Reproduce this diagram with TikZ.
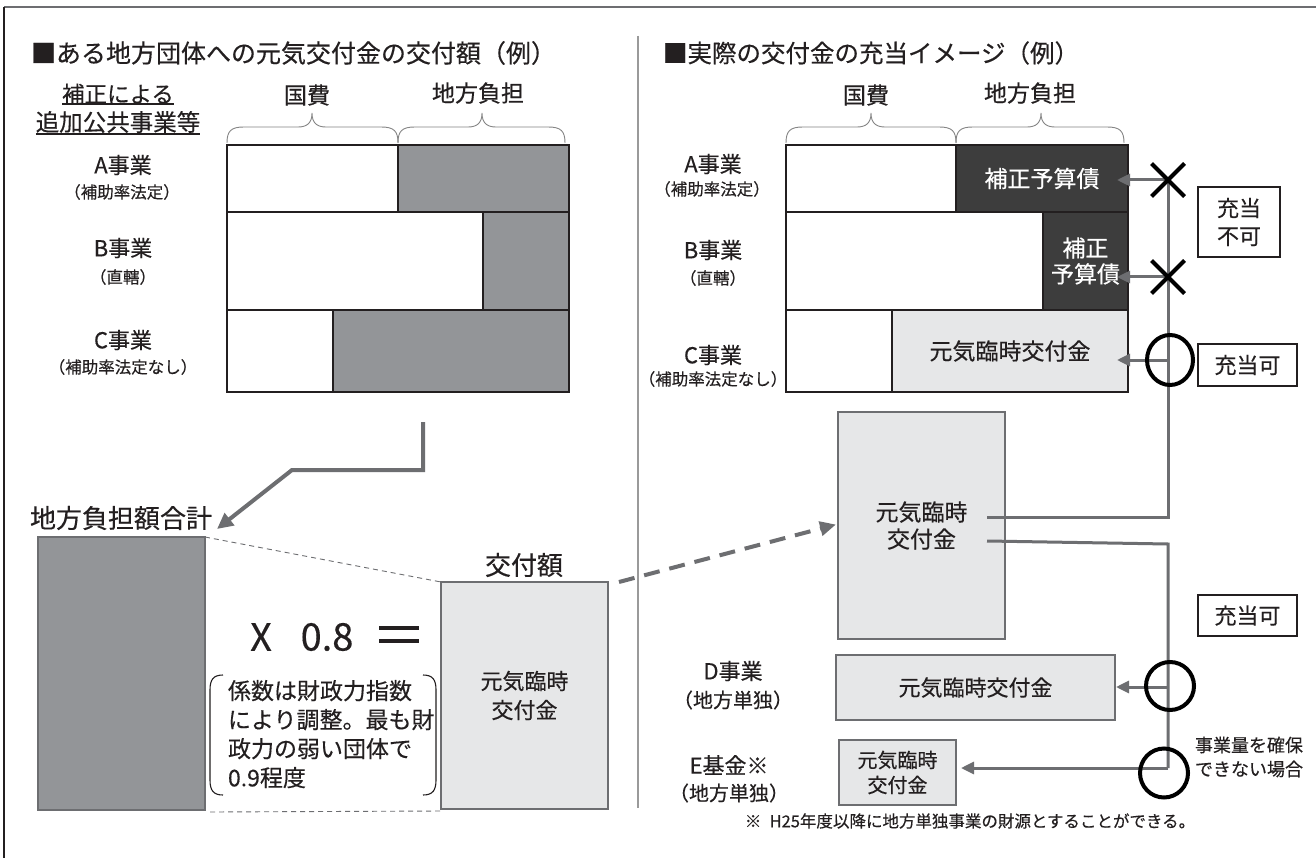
\documentclass[tikz,border=0pt]{standalone}
\usepackage{fontspec}
\setmainfont{Noto Sans CJK JP}[FakeBold=0.35]
\usetikzlibrary{arrows.meta,shapes.geometric,shapes.misc}
\definecolor{midgray}{HTML}{939598}
\definecolor{darkfill}{HTML}{3D3D3D}
\definecolor{lightfill}{HTML}{E6E7E8}
\definecolor{conng}{HTML}{6D6E71}
\definecolor{edge}{HTML}{231F20}
\definecolor{braceg}{HTML}{858585}
\definecolor{divg}{HTML}{9A9A9A}
\newcommand{\fsz}[2]{\fontsize{#1}{#2}\selectfont}
\newcommand{\brc}[3]{\draw[brace] (#1,143) .. controls (#1,131) and (#1+4,127) .. (#1+17,127) -- (#2-14,127) .. controls (#2-5,127) and (#2,123) .. (#2,113) .. controls (#2,123) and (#2+5,127) .. (#2+14,127) -- (#3-17,127) .. controls (#3-4,127) and (#3,131) .. (#3,143);}
\begin{document}
\begin{tikzpicture}[x=1pt,y=-1pt,
  every node/.style={inner sep=0pt, outer sep=0pt, text=edge},
  cell/.style={draw=edge, line width=1.3pt, anchor=north west, align=center},
  lbl/.style={align=center},
  brace/.style={draw=braceg, line width=0.9pt},
  link/.style={draw=conng, line width=3pt},
  arr/.style={link, -{Triangle[length=13pt,width=12pt]}},
  dasharr/.style={draw=conng, line width=4pt, dash pattern=on 16pt off 10pt, -{Triangle[length=16pt,width=14pt]}},
  thindash/.style={draw=conng, line width=0.9pt, dash pattern=on 5pt off 4pt},
  sym/.style={draw=black, line width=4pt},
]
\useasboundingbox (0,0) rectangle (1316,858);
\fill[white] (0,0) rectangle (1316,858);
% frame
\coordinate (fTL) at (4,7);
\coordinate (fTR) at (1316,7);
\coordinate (fBL) at (4,858);
\draw[conng, line width=1.6pt] (fTL) -- (fTR);
\draw[edge, line width=1.4pt] (fTL) -- (fBL);
% divider
\coordinate (dv1) at (638,36);
\coordinate (dv2) at (638,808);
\draw[divg, line width=2pt] (dv1) -- (dv2);

% titles
\node[lbl, anchor=west, font=\fsz{25}{30}] (ttlL) at (31,53) {■ある地方団体への元気交付金の交付額（例）};
\node[lbl, anchor=west, font=\fsz{24.5}{30}] (ttlR) at (663,53) {■実際の交付金の充当イメージ（例）};

% ---------- left panel ----------
\node[lbl, font=\fsz{22.5}{27}] (hos1) at (118,94) {補正による};
\node[lbl, font=\fsz{23.5}{28}] (hos2) at (118,122) {追加公共事業等};
\coordinate (u1) at (0,104);
\coordinate (u2) at (0,134);
\draw[edge, line width=1.2pt] (hos1.west |- u1) -- (hos1.east |- u1);
\draw[edge, line width=1.2pt] (hos2.west |- u2) -- (hos2.east |- u2);

\node[lbl, font=\fsz{23}{28}] (kL) at (307,95) {国費};
\node[lbl, font=\fsz{23}{28}] (cL) at (478,93) {地方負担};
\brc{227}{312}{398}
\brc{398}{482}{565}

\node[lbl, font=\fsz{22}{26}] (aL) at (123,165) {A事業};
\node[lbl, font=\fsz{16.5}{20}] (aL2) at (122,192) {（補助率法定）};
\node[lbl, font=\fsz{22}{26}] (bL) at (123,248) {B事業};
\node[lbl, font=\fsz{16.5}{20}] (bL2) at (123,277) {（直轄）};
\node[lbl, font=\fsz{22}{26}] (cLb) at (123,340) {C事業};
\node[lbl, font=\fsz{16.5}{20}] (cL2) at (123,367) {（補助率法定なし）};

\node[cell, fill=white, minimum width=171pt, minimum height=67pt] (lAw) at (227,145) {};
\node[cell, fill=midgray, minimum width=171pt, minimum height=67pt] (lAg) at (398,145) {};
\node[cell, fill=white, minimum width=256pt, minimum height=98pt] (lBw) at (227,212) {};
\node[cell, fill=midgray, minimum width=86pt, minimum height=98pt] (lBg) at (483,212) {};
\node[cell, fill=white, minimum width=106pt, minimum height=82pt] (lCw) at (227,310) {};
\node[cell, fill=midgray, minimum width=236pt, minimum height=82pt] (lCg) at (333,310) {};

% elbow arrow
\node[lbl, font=\fsz{26}{30}] (sum) at (121,518) {地方負担額合計};
\coordinate (e0) at (423,422);
\coordinate (e1) at (423,470);
\coordinate (e2) at (292,470);
\coordinate (e3) at (217,529);
\draw[link, line width=4pt, -{Triangle[length=16pt,width=15pt]}] (e0) -- (e1) -- (e2) -- (e3);

\node[cell, draw=conng, fill=midgray, minimum width=167pt, minimum height=273pt] (tot) at (38,537) {};
\node[lbl, font=\fsz{26}{30}] (kfg) at (524,565) {交付額};
\node[cell, draw=conng, fill=lightfill, minimum width=167pt, minimum height=227pt, font=\fsz{22}{29}] (grant) at (441,582) {元気臨時\\交付金};
\draw[thindash] (tot.north east) -- (grant.north west);
\draw[thindash] ([xshift=5pt,yshift=-2pt]tot.south east) -- ([yshift=-2pt]grant.south west);

\node[lbl, font=\fsz{38}{44}] (xx) at (261,637) {X};
\node[lbl, font=\fsz{38}{44}] (num) at (327,637) {0.8};
\coordinate (eq1) at (379,628);
\coordinate (eq2) at (419,628);
\coordinate (eq3) at (379,641);
\coordinate (eq4) at (419,641);
\draw[edge, line width=4pt] (eq1) -- (eq2);
\draw[edge, line width=4pt] (eq3) -- (eq4);

\node[lbl, align=left, anchor=north west, font=\fsz{23}{29}] (note) at (228,680) {係数は財政力指数\\により調整。最も財\\政力の弱い団体で\\0.9程度};
\draw[edge, line width=1.1pt] (223,675) .. controls (213,675) and (210,680) .. (210,690) -- (210,780) .. controls (210,790) and (213,795) .. (223,795);
\draw[edge, line width=1.1pt] (423,675) .. controls (433,675) and (436,680) .. (436,690) -- (436,780) .. controls (436,790) and (433,795) .. (423,795);

% ---------- right panel ----------
\node[lbl, font=\fsz{23}{28}] (kR) at (866,95) {国費};
\node[lbl, font=\fsz{23}{28}] (cR) at (1030,93) {地方負担};
\brc{786}{871}{956}
\brc{956}{1041}{1124}

\node[lbl, font=\fsz{22}{26}] (aR) at (713,164) {A事業};
\node[lbl, font=\fsz{16.5}{20}] (aR2) at (712,189) {（補助率法定）};
\node[lbl, font=\fsz{22}{26}] (bR) at (713,250) {B事業};
\node[lbl, font=\fsz{16.5}{20}] (bR2) at (713,278) {（直轄）};
\node[lbl, font=\fsz{22}{26}] (cRb) at (713,355) {C事業};
\node[lbl, font=\fsz{16.5}{20}] (cR2) at (713,379) {（補助率法定なし）};

\node[cell, fill=white, minimum width=170pt, minimum height=67pt] (rAw) at (786,145) {};
\node[cell, fill=darkfill, text=white, minimum width=172pt, minimum height=67pt, font=\fsz{23}{28}] (rAd) at (956,145) {補正予算債};
\node[cell, fill=white, minimum width=257pt, minimum height=98pt] (rBw) at (786,212) {};
\node[cell, fill=darkfill, text=white, minimum width=85pt, minimum height=98pt, font=\fsz{23}{26}] (rBd) at (1043,212) {補正\\予算債};
\node[cell, fill=white, minimum width=106pt, minimum height=82pt] (rCw) at (786,310) {};
\node[cell, fill=lightfill, minimum width=236pt, minimum height=82pt, font=\fsz{23}{28}] (rCl) at (892,310) {元気臨時交付金};

\node[cell, draw=conng, fill=lightfill, minimum width=167pt, minimum height=227pt, font=\fsz{23}{27}] (big) at (838,412) {元気臨時\\交付金};

\node[lbl, font=\fsz{22}{26}] (dR) at (733,671) {D事業};
\node[lbl, font=\fsz{20}{24}] (dR2) at (733,700) {（地方単独）};
\node[cell, draw=conng, fill=lightfill, minimum width=279pt, minimum height=65pt, font=\fsz{22}{26}] (dbox) at (836,655) {元気臨時交付金};
\node[lbl, font=\fsz{22}{26}] (eR) at (729,765) {E基金※};
\node[lbl, font=\fsz{20}{24}] (eR2) at (729,793) {（地方単独）};
\node[cell, draw=conng, fill=lightfill, minimum width=117pt, minimum height=65pt, font=\fsz{20}{25}] (ebox) at (839,740) {元気臨時\\交付金};

\node[lbl, font=\fsz{16.5}{20}] (foot) at (970,821) {※\hspace{0.5em}H25年度以降に地方単独事業の財源とすることができる。};

% dashed arrow
\draw[dasharr] ([xshift=11pt]grant.north east) -- ([xshift=-2pt,yshift=1pt]big.west);

% trunk
\coordinate (tA) at (1168,180);
\coordinate (tB) at (1168,277);
\coordinate (tC) at (1168,360);
\coordinate (tU) at (1168,517);
\coordinate (tL) at (1168,544);
\coordinate (tD) at (1168,687);
\coordinate (tE) at (1168,768);
\coordinate (bs1) at (987,517);
\coordinate (bs2) at (987,541);
\draw[link] (bs1) -- (tU) -- (tA);
\draw[link] (bs2) -- (tL) -- (tE);
\draw[arr] (tA) -- ([xshift=-11pt]tA -| rAd.east);
\draw[arr] (tB) -- ([xshift=-11pt]tB -| rBd.east);
\draw[arr] (tC) -- ([xshift=-11pt]tC -| rCl.east);
\draw[arr] (tD) -- ([xshift=1pt]tD -| dbox.east);
\draw[arr] (tE) -- ([xshift=5pt]tE -| ebox.east);

\node[sym, cross out, minimum size=33pt] (xA) at (1168,180) {};
\node[sym, cross out, minimum size=33pt] (xB) at (1168,277) {};
\node[sym, ellipse, minimum width=46pt, minimum height=50pt] (oC) at (1170,360) {};
\node[sym, ellipse, minimum width=48pt, minimum height=48pt] (oD) at (1170,686) {};
\node[sym, ellipse, minimum width=48pt, minimum height=49pt] (oE) at (1164,773) {};

\node[cell, minimum width=82pt, minimum height=70pt, font=\fsz{22}{28}] (ng) at (1198,187) {充当\\不可};
\node[cell, minimum width=99pt, minimum height=42pt, font=\fsz{22}{26}] (ok1) at (1198,344) {充当可};
\node[cell, minimum width=99pt, minimum height=41pt, font=\fsz{22}{26}] (ok2) at (1198,595) {充当可};
\node[lbl, font=\fsz{18}{24}] (cant) at (1249,757) {事業量を確保\\できない場合};
\end{tikzpicture}
\end{document}
